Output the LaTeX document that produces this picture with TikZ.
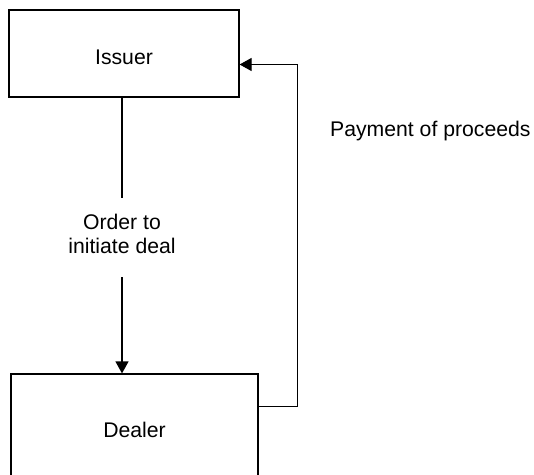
\documentclass[tikz,border=0pt]{standalone}
\usepackage{fontspec}
\setmainfont{Liberation Sans}
\usetikzlibrary{arrows.meta}
\begin{document}
\begin{tikzpicture}[x=1pt,y=1pt,
  every node/.style={font=\fontsize{21.2}{24}\selectfont},
  party/.style={draw, line width=1.2pt, inner sep=0pt},
  flow/.style={line width=1.2pt},
  flowarrow/.style={flow, -{Triangle[length=12pt,width=13pt]}}]
  % page frame; the dealer box runs off the lower edge
  \clip (0,0) rectangle (534,-474);
  \fill[white] (0,0) rectangle (534,-474);

  \node[party, minimum width=230pt, minimum height=87pt,
        text height=22pt, text depth=0pt] (issuer) at (124,-53.5) {Issuer};
  \node[party, minimum width=247pt, minimum height=112pt] (dealer) at (134.5,-430) {Dealer};
  \node[align=center, inner xsep=2pt, inner ysep=16pt] (order) at (122,-234.4) {Order to\\initiate deal};
  \node[anchor=base west, inner sep=0pt] (payment) at (330,-136) {Payment of proceeds};

  % instruction from issuer to dealer
  \draw[flow] (issuer.south -| order.north) -- (order.north);
  \draw[flowarrow] ([yshift=-7pt]order.south) -- (order.south |- dealer.north);
  % proceeds returned from dealer to issuer
  \draw[flowarrow] ([yshift=-33pt]dealer.north east) -- ++(39,0) |- ([yshift=-11pt]issuer.east);
\end{tikzpicture}
\end{document}
